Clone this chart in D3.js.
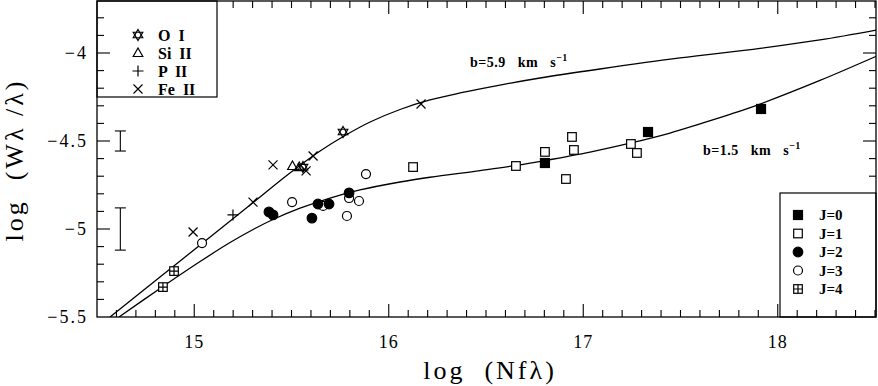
<!DOCTYPE html>
<html>
<head>
<meta charset="utf-8">
<script src="https://cdn.jsdelivr.net/npm/d3@7"></script>
<style>
body { margin: 0; background: #fff; }
svg { display: block; }
text { font-family: "Liberation Serif", "DejaVu Serif", serif; fill: #000; white-space: pre; }
</style>
</head>
<body>
<div id="chart"></div>
<script>
// data: [log Nf lambda, log W/lambda]
var oI = [[15.765, -4.449], [15.559, -4.648]]
var siII = [[15.505, -4.642], [15.540, -4.648]]
var pII = [[15.199, -4.920]]
var feII = [[14.994, -5.017], [15.302, -4.847], [15.405, -4.636], [15.611, -4.585], [15.575, -4.670], [16.166, -4.290]]

var j0 = [[16.803, -4.625], [17.333, -4.449], [17.914, -4.318]]
var j1 = [[16.125, -4.648], [16.654, -4.642], [16.803, -4.562], [16.942, -4.477], [16.952, -4.551],
          [16.911, -4.716], [17.245, -4.517], [17.276, -4.568]]
var j2 = [[15.384, -4.903], [15.405, -4.920], [15.605, -4.938], [15.636, -4.858], [15.693, -4.858], [15.796, -4.795]]
var j3 = [[15.040, -5.080], [15.503, -4.847], [15.662, -4.869], [15.796, -4.824], [15.847, -4.841],
          [15.883, -4.688], [15.785, -4.926]]
var j4 = [[14.896, -5.239], [14.839, -5.330]]

// curves of growth
var curveB59 = [[14.567, -5.500], [14.824, -5.273], [15.040, -5.082], [15.287, -4.864], [15.492, -4.682],
                [15.647, -4.557], [15.775, -4.469], [15.904, -4.392], [16.058, -4.321], [16.212, -4.267],
                [16.366, -4.227], [16.572, -4.182], [16.778, -4.142], [17.086, -4.091], [17.497, -4.028],
                [17.909, -3.974], [18.217, -3.926], [18.510, -3.869]]
var curveB15 = [[14.613, -5.500], [14.824, -5.338], [15.030, -5.185], [15.184, -5.077], [15.312, -4.997],
                [15.405, -4.946], [15.544, -4.882], [15.698, -4.824], [15.852, -4.778], [16.058, -4.733],
                [16.212, -4.706], [16.469, -4.668], [16.654, -4.639], [16.803, -4.611], [17.035, -4.563],
                [17.246, -4.511], [17.446, -4.455], [17.600, -4.403], [17.754, -4.349], [17.909, -4.290],
                [18.217, -4.156], [18.510, -4.017]]

// typical error bars: [x, centre, half-length]
var errBars = [[14.62, -4.5, 0.057], [14.62, -5.0, 0.12]]

var xTicks = [15, 16, 17, 18]
var yTicks = [-4, -4.5, -5, -5.5]
var yTickLabels = ["\u22124", "\u22124.5", "\u22125", "\u22125.5"]

var ionLegend = [["star", "O  I"], ["tri", "Si  II"], ["plus", "P  II"], ["cross", "Fe  II"]]
var jLegend = [["sqFill", "J=0"], ["sqOpen", "J=1"], ["cirFill", "J=2"], ["cirOpen", "J=3"], ["sqPlus", "J=4"]]

var width = 878, height = 386
var pLeft = 97, pRight = 876, pTop = 1, pBottom = 317

var svg = d3.select("#chart").append("svg")
    .attr("width", width).attr("height", height)

var x = d3.scaleLinear().domain([14.5, 18.5]).range([pLeft, pLeft + 4 * 194.5])
var y = d3.scaleLinear().domain([-5.5, -3.7]).range([pBottom, pBottom - 1.8 * 176])

svg.append("defs").append("clipPath").attr("id", "plotclip")
  .append("rect").attr("x", pLeft).attr("y", pTop).attr("width", pRight - pLeft).attr("height", pBottom - pTop)

// curves
var line = d3.line().x(function(d){ return x(d[0]) }).y(function(d){ return y(d[1]) })
    .curve(d3.curveCatmullRom.alpha(0.5))
var cg = svg.append("g").attr("clip-path", "url(#plotclip)")
;[curveB59, curveB15].forEach(function(c){
  cg.append("path").attr("d", line(c)).attr("fill", "none").attr("stroke", "#000").attr("stroke-width", 1.3)
})

// curve labels
function bLabel(tx, ty, s) {
  var t = svg.append("text").attr("x", tx).attr("y", ty).style("font-size", "14px").style("font-weight", "bold")
    .style("letter-spacing", "0.5px")
  t.append("tspan").text(s + "   km   s")
  t.append("tspan").attr("dy", -6).style("font-size", "10px").text("\u22121")
}
bLabel(470, 67, "b=5.9")
bLabel(703, 155, "b=1.5")

// error bars
var eg = svg.append("g").attr("stroke", "#000").attr("stroke-width", 1.1)
errBars.forEach(function(e){
  var px = x(e[0]), y1 = y(e[1] + e[2]), y2 = y(e[1] - e[2])
  eg.append("line").attr("x1", px).attr("x2", px).attr("y1", y1).attr("y2", y2)
  eg.append("line").attr("x1", px - 5.5).attr("x2", px + 5.5).attr("y1", y1).attr("y2", y1)
  eg.append("line").attr("x1", px - 5.5).attr("x2", px + 5.5).attr("y1", y2).attr("y2", y2)
})

// symbols
function drawSymbol(g, type, cx, cy) {
  var s = g.append("g").attr("transform", "translate(" + cx + "," + cy + ")")
    .attr("stroke", "#000").attr("stroke-width", 1.2).attr("fill", "none")
  if (type == "star") {
    s.append("path").attr("d", "M0,-5.5L4.76,2.75L-4.76,2.75Z")
    s.append("path").attr("d", "M0,5.5L4.76,-2.75L-4.76,-2.75Z")
  } else if (type == "tri") {
    s.append("path").attr("d", "M0,-5L4.8,3.5L-4.8,3.5Z")
  } else if (type == "plus") {
    s.append("path").attr("d", "M-5.5,0L5.5,0M0,-5.5L0,5.5")
  } else if (type == "cross") {
    s.append("path").attr("d", "M-4.5,-4.5L4.5,4.5M-4.5,4.5L4.5,-4.5")
  } else if (type == "sqFill") {
    s.append("rect").attr("x", -4.5).attr("y", -4.5).attr("width", 9).attr("height", 9).attr("fill", "#000")
  } else if (type == "sqOpen") {
    s.append("rect").attr("x", -4.3).attr("y", -4.3).attr("width", 8.6).attr("height", 8.6).attr("fill", "#fff")
  } else if (type == "cirFill") {
    s.append("circle").attr("r", 4.8).attr("fill", "#000")
  } else if (type == "cirOpen") {
    s.append("circle").attr("r", 4.5).attr("fill", "#fff")
  } else if (type == "sqPlus") {
    s.append("rect").attr("x", -4.3).attr("y", -4.3).attr("width", 8.6).attr("height", 8.6).attr("fill", "#fff")
    s.append("path").attr("d", "M-4.3,0L4.3,0M0,-4.3L0,4.3")
  }
}

var pg = svg.append("g")
var groups = [["sqOpen", j1], ["cirOpen", j3], ["sqPlus", j4], ["cirFill", j2], ["sqFill", j0],
              ["tri", siII], ["star", oI], ["plus", pII], ["cross", feII]]
groups.forEach(function(gr){
  gr[1].forEach(function(d){ drawSymbol(pg, gr[0], x(d[0]), y(d[1])) })
})

// legend boxes
svg.append("rect").attr("x", pLeft).attr("y", pTop).attr("width", 120).attr("height", 96)
  .attr("fill", "#fff").attr("stroke", "#000").attr("stroke-width", 1.2)
ionLegend.forEach(function(d, i){
  var ly = 35 + i * 18
  drawSymbol(svg, d[0], 138, ly)
  svg.append("text").attr("x", 158).attr("y", ly).attr("dy", "0.35em")
    .style("font-size", "16px").style("font-weight", "bold").text(d[1])
})

svg.append("rect").attr("x", 780).attr("y", 193).attr("width", pRight - 780).attr("height", pBottom - 193)
  .attr("fill", "#fff").attr("stroke", "#000").attr("stroke-width", 1.2)
jLegend.forEach(function(d, i){
  var ly = 215 + i * 18.5
  drawSymbol(svg, d[0], 798, ly)
  svg.append("text").attr("x", 819).attr("y", ly).attr("dy", "0.35em")
    .style("font-size", "15px").style("font-weight", "bold").text(d[1])
})

// ticks on all four sides, pointing inward
var minorX = d3.range(145, 186).map(function(d){ return d / 10 })
var minorY = d3.range(-55, -36).map(function(d){ return d / 10 })

function isMajorX(v){ return Math.abs(v - Math.round(v)) < 1e-6 }
function isMajorY(v){ return Math.abs(v * 2 - Math.round(v * 2)) < 1e-6 }

var tg = svg.append("g").attr("stroke", "#000").attr("stroke-width", 1.1)
minorX.forEach(function(v){
  var px = x(v), len = isMajorX(v) ? 13 : 7
  if (px <= pLeft + 0.5 || px >= pRight - 0.5) return
  tg.append("line").attr("x1", px).attr("x2", px).attr("y1", pBottom).attr("y2", pBottom - len)
  if (px > pLeft + 121) tg.append("line").attr("x1", px).attr("x2", px).attr("y1", pTop).attr("y2", pTop + len)
})
minorY.forEach(function(v){
  var py = y(v), len = isMajorY(v) ? 13 : 7
  if (py >= pBottom - 0.5 || py <= pTop + 0.5) return
  tg.append("line").attr("x1", pLeft).attr("x2", pLeft + len).attr("y1", py).attr("y2", py)
  if (py < 192) tg.append("line").attr("x1", pRight).attr("x2", pRight - len).attr("y1", py).attr("y2", py)
})

// frame
svg.append("rect").attr("x", pLeft).attr("y", pTop).attr("width", pRight - pLeft).attr("height", pBottom - pTop)
  .attr("fill", "none").attr("stroke", "#000").attr("stroke-width", 1.3)

// tick labels
svg.selectAll(".xl").data(xTicks).enter().append("text")
  .attr("x", function(d){ return x(d) }).attr("y", 348)
  .attr("text-anchor", "middle").style("font-size", "18px").style("letter-spacing", "1px")
  .text(function(d){ return d })
svg.selectAll(".yl").data(yTicks).enter().append("text")
  .attr("x", 88).attr("y", function(d){ return y(d) }).attr("dy", "0.35em")
  .attr("text-anchor", "end").style("font-size", "18px").style("letter-spacing", "2px")
  .text(function(d, i){ return yTickLabels[i] })

// axis titles
svg.append("text").attr("x", 490).attr("y", 379).attr("text-anchor", "middle")
  .style("font-size", "26px").style("letter-spacing", "3px").text("log  (Nf\u03bb)")
svg.append("text").attr("transform", "translate(23,160) rotate(-90)").attr("text-anchor", "middle")
  .style("font-size", "26px").style("letter-spacing", "3px").text("log  (W\u03bb /\u03bb)")
</script>
</body>
</html>
